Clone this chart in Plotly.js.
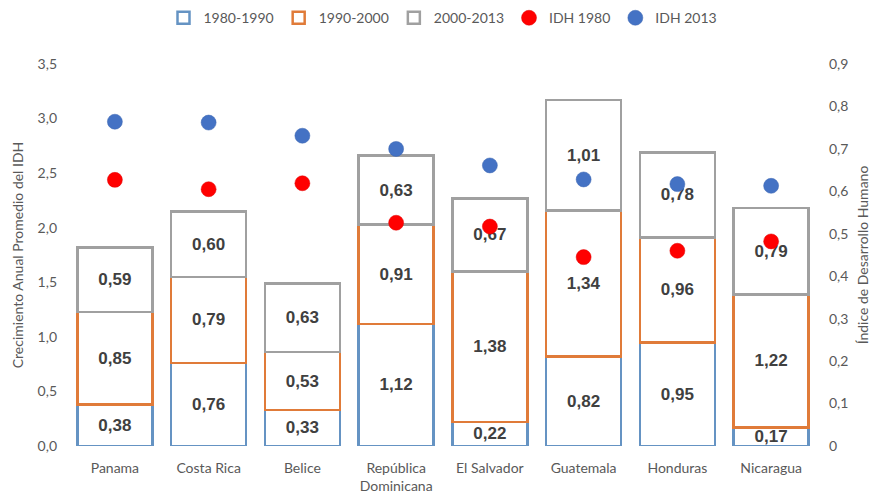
<!DOCTYPE html>
<html>
<head>
<meta charset="utf-8">
<script src="https://cdn.plot.ly/plotly-3.0.1.min.js"></script>
<style>html,body{margin:0;padding:0;background:#fff;}#chart{width:878px;height:497px;}</style>
</head>
<body>
<div id="chart"></div>
<script>
const categories = ["Panama", "Costa Rica", "Belice", "República<br>Dominicana", "El Salvador", "Guatemala", "Honduras", "Nicaragua"];
const g1980_1990 = [0.38, 0.76, 0.33, 1.12, 0.22, 0.82, 0.95, 0.17];
const g1990_2000 = [0.85, 0.79, 0.53, 0.91, 1.38, 1.34, 0.96, 1.22];
const g2000_2013 = [0.59, 0.60, 0.63, 0.63, 0.67, 1.01, 0.78, 0.79];
const idh1980 = [0.627, 0.605, 0.619, 0.526, 0.517, 0.445, 0.460, 0.482];
const idh2013 = [0.764, 0.762, 0.731, 0.700, 0.661, 0.628, 0.617, 0.613];
const leftTicks = [0, 0.5, 1, 1.5, 2, 2.5, 3, 3.5];
const rightTickVals = [0, 0.1, 0.2, 0.3, 0.4, 0.5, 0.6, 0.7, 0.8, 0.9];
const rightTickText = ["0", "0,1", "0,2", "0,3", "0,4", "0,5", "0,6", "0,7", "0,8", "0,9"];

const tickFont = {family: "Lato, 'Open Sans', sans-serif", size: 14, color: "#595959"};
const labelFont = {family: "'Liberation Sans', Arial, sans-serif", size: 17, color: "#404040", weight: "bold"};

function barTrace(name, vals, color) {
  return {
    type: "bar", name: name, x: categories, y: vals,
    marker: {color: "#ffffff", line: {color: color, width: 2.5}},
    texttemplate: "<b>%{y:.2f}</b>", textposition: "inside", insidetextanchor: "middle",
    constraintext: "none", textfont: labelFont, cliponaxis: false, hoverinfo: "skip"
  };
}

const data = [
  barTrace("1980-1990", g1980_1990, "#6593c3"),
  barTrace("1990-2000", g1990_2000, "#e07b39"),
  barTrace("2000-2013", g2000_2013, "#a0a0a0"),
  {type: "scatter", mode: "markers", name: "IDH 1980", x: categories, y: idh1980, yaxis: "y2",
   marker: {color: "#ff0000", size: 15, line: {color: "#e00000", width: 0.5}}},
  {type: "scatter", mode: "markers", name: "IDH 2013", x: categories, y: idh2013, yaxis: "y2",
   marker: {color: "#4472c4", size: 15, line: {color: "#3a64b0", width: 0.5}}}
];

const layout = {
  width: 878, height: 497,
  margin: {l: 68, r: 60, t: 64, b: 51, autoexpand: false},
  paper_bgcolor: "#ffffff", plot_bgcolor: "#ffffff",
  separators: ",.",
  barmode: "stack", bargap: 0.2,
  font: {family: "Lato, 'Open Sans', sans-serif", color: "#595959"},
  showlegend: true,
  legend: {orientation: "h", x: 0.5, xanchor: "center", y: 1.12, yanchor: "middle",
           font: {family: "Lato, 'Open Sans', sans-serif", size: 14, color: "#595959"},
           traceorder: "normal", itemwidth: 30},
  xaxis: {type: "category", showgrid: false, showline: false, zeroline: false, ticks: "",
          tickfont: tickFont, ticklabelstandoff: 12},
  yaxis: {range: [0, 3.5], tickvals: leftTicks, tickformat: ".1f", showgrid: false, zeroline: false,
          showline: false, ticks: "", tickfont: tickFont, ticklabelstandoff: 10,
          title: {text: "Crecimiento Anual Promedio del IDH", font: {size: 14, color: "#595959"}, standoff: 10}},
  yaxis2: {range: [0, 0.9], overlaying: "y", side: "right", tickvals: rightTickVals, ticktext: rightTickText,
           showgrid: false, zeroline: false, showline: false, ticks: "", tickfont: tickFont, ticklabelstandoff: 10,
           title: {text: "Índice de Desarrollo Humano", font: {size: 14, color: "#595959"}, standoff: 10}}
};

Plotly.newPlot("chart", data, layout, {displayModeBar: false, staticPlot: true});
</script>
</body>
</html>
